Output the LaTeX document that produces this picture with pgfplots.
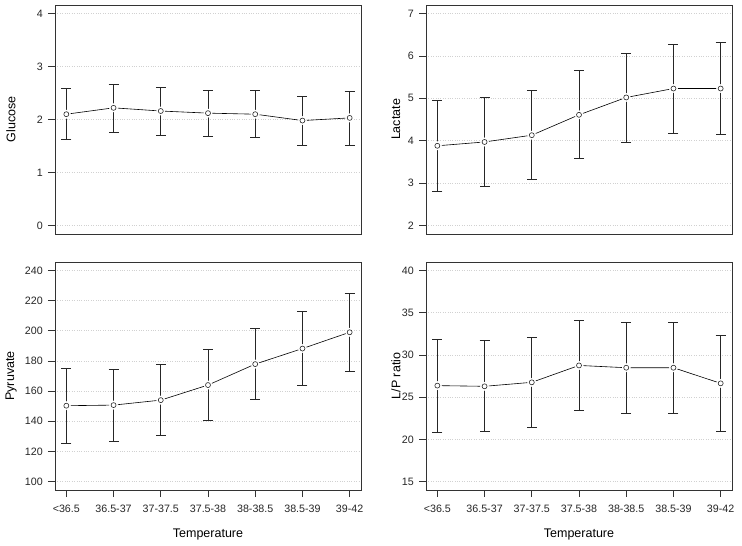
\documentclass[border=0pt]{standalone}
\usepackage{fontspec}
\setmainfont{Liberation Sans}
\usepackage{pgfplots}
\usepackage{pgfplotstable}
\pgfplotsset{compat=1.18}

\pgfplotstableread{
x y hi lo
1 2.10 2.58 1.62
2 2.22 2.67 1.76
3 2.16 2.60 1.71
4 2.12 2.56 1.68
5 2.10 2.56 1.67
6 1.98 2.44 1.52
7 2.03 2.54 1.52
}\glucose
\pgfplotstableread{
x y hi lo
1 3.88 4.96 2.81
2 3.97 5.02 2.93
3 4.13 5.18 3.09
4 4.61 5.66 3.58
5 5.02 6.06 3.97
6 5.23 6.28 4.18
7 5.23 6.32 4.14
}\lactate
\pgfplotstableread{
x y hi lo
1 150.3 175.2 125.6
2 150.7 174.6 126.9
3 154.0 177.9 130.4
4 164.0 187.8 140.6
5 177.9 201.7 154.3
6 188.2 212.7 164.0
7 199.0 224.9 173.0
}\pyruvate
\pgfplotstableread{
x y hi lo
1 26.36 31.90 20.85
2 26.28 31.70 20.93
3 26.75 32.13 21.37
4 28.75 34.10 23.45
5 28.48 33.86 23.09
6 28.48 33.90 23.05
7 26.63 32.29 20.97
}\lpratio

\pgfplotsset{
  panel/.style={
    scale only axis, width=306bp,
    xmin=0.76, xmax=7.24,
    axis line style={black!80, line width=0.6bp},
    tick style={black!80, line width=0.6bp},
    tick align=outside, major tick length=7bp,
    xtick pos=bottom, ytick pos=left,
    ymajorgrids,
    major grid style={dotted, black!18, line width=0.6bp},
    /pgf/number format/assume math mode=true,
    ticklabel style={font=\fontsize{10.7bp}{12bp}\selectfont, black!85},
    yticklabel style={anchor=east, inner sep=0pt, xshift=-5bp},
    xticklabel style={anchor=north, inner sep=0pt, yshift=-8bp},
    every axis y label/.style={rotate=90, anchor=center, font=\fontsize{12.5bp}{14bp}\selectfont},
    every axis x label/.style={at={([yshift=-44bp]axis description cs:0.5,0)}, anchor=center, font=\fontsize{12.5bp}{14bp}\selectfont},
  },
  toppanel/.style={panel, height=229bp, xtick=\empty},
  botpanel/.style={panel, height=228bp, xtick={1,...,7},
    xticklabels={{<36.5},{36.5-37},{37-37.5},{37.5-38},{38-38.5},{38.5-39},{39-42}},
    xlabel={Temperature}},
  lineplot/.style={black, line width=0.6bp, no marks},
  halo/.style={only marks, mark=*, mark size=4.2bp, mark options={draw=white, fill=white}},
  ptplot/.style={only marks, mark=o, mark size=2.5bp, mark options={black!85, line width=0.6bp},
    error bars/.cd, y dir=both, y explicit,
    error bar style={black!85, line width=0.6bp},
    error mark options={rotate=90, mark size=5bp, black!85, line width=0.6bp}},
}
\newcommand{\series}[1]{%
  \addplot[lineplot] table[x=x,y=y] {#1};
  \addplot[halo] table[x=x,y=y] {#1};
  \addplot[ptplot] table[x=x, y=y,
    y error plus expr=\thisrow{hi}-\thisrow{y},
    y error minus expr=\thisrow{y}-\thisrow{lo}] {#1};
}

\begin{document}
\begin{tikzpicture}
\useasboundingbox (0,0) rectangle (742bp,546bp);
\begin{axis}[toppanel, at={(55bp,312bp)}, anchor=south west,
  ymin=-0.16, ymax=4.16, ytick={0,1,2,3,4}, ylabel={Glucose},
  ylabel style={at={([xshift=-44bp]axis description cs:0,0.5)}}]
\series{\glucose}
\end{axis}
\begin{axis}[toppanel, at={(426bp,312bp)}, anchor=south west,
  ymin=1.8, ymax=7.2, ytick={2,3,4,5,6,7}, ylabel={Lactate},
  ylabel style={at={([xshift=-30bp]axis description cs:0,0.5)}}]
\series{\lactate}
\end{axis}
\begin{axis}[botpanel, at={(55bp,56bp)}, anchor=south west,
  ymin=94.4, ymax=245.6, ytick={100,120,...,240}, ylabel={Pyruvate},
  ylabel style={at={([xshift=-44bp]axis description cs:0,0.5)}}]
\series{\pyruvate}
\end{axis}
\begin{axis}[botpanel, at={(426bp,56bp)}, anchor=south west,
  ymin=14, ymax=41, ytick={15,20,...,40}, ylabel={L/P ratio},
  ylabel style={at={([xshift=-30bp]axis description cs:0,0.5)}}]
\series{\lpratio}
\end{axis}
\end{tikzpicture}
\end{document}
